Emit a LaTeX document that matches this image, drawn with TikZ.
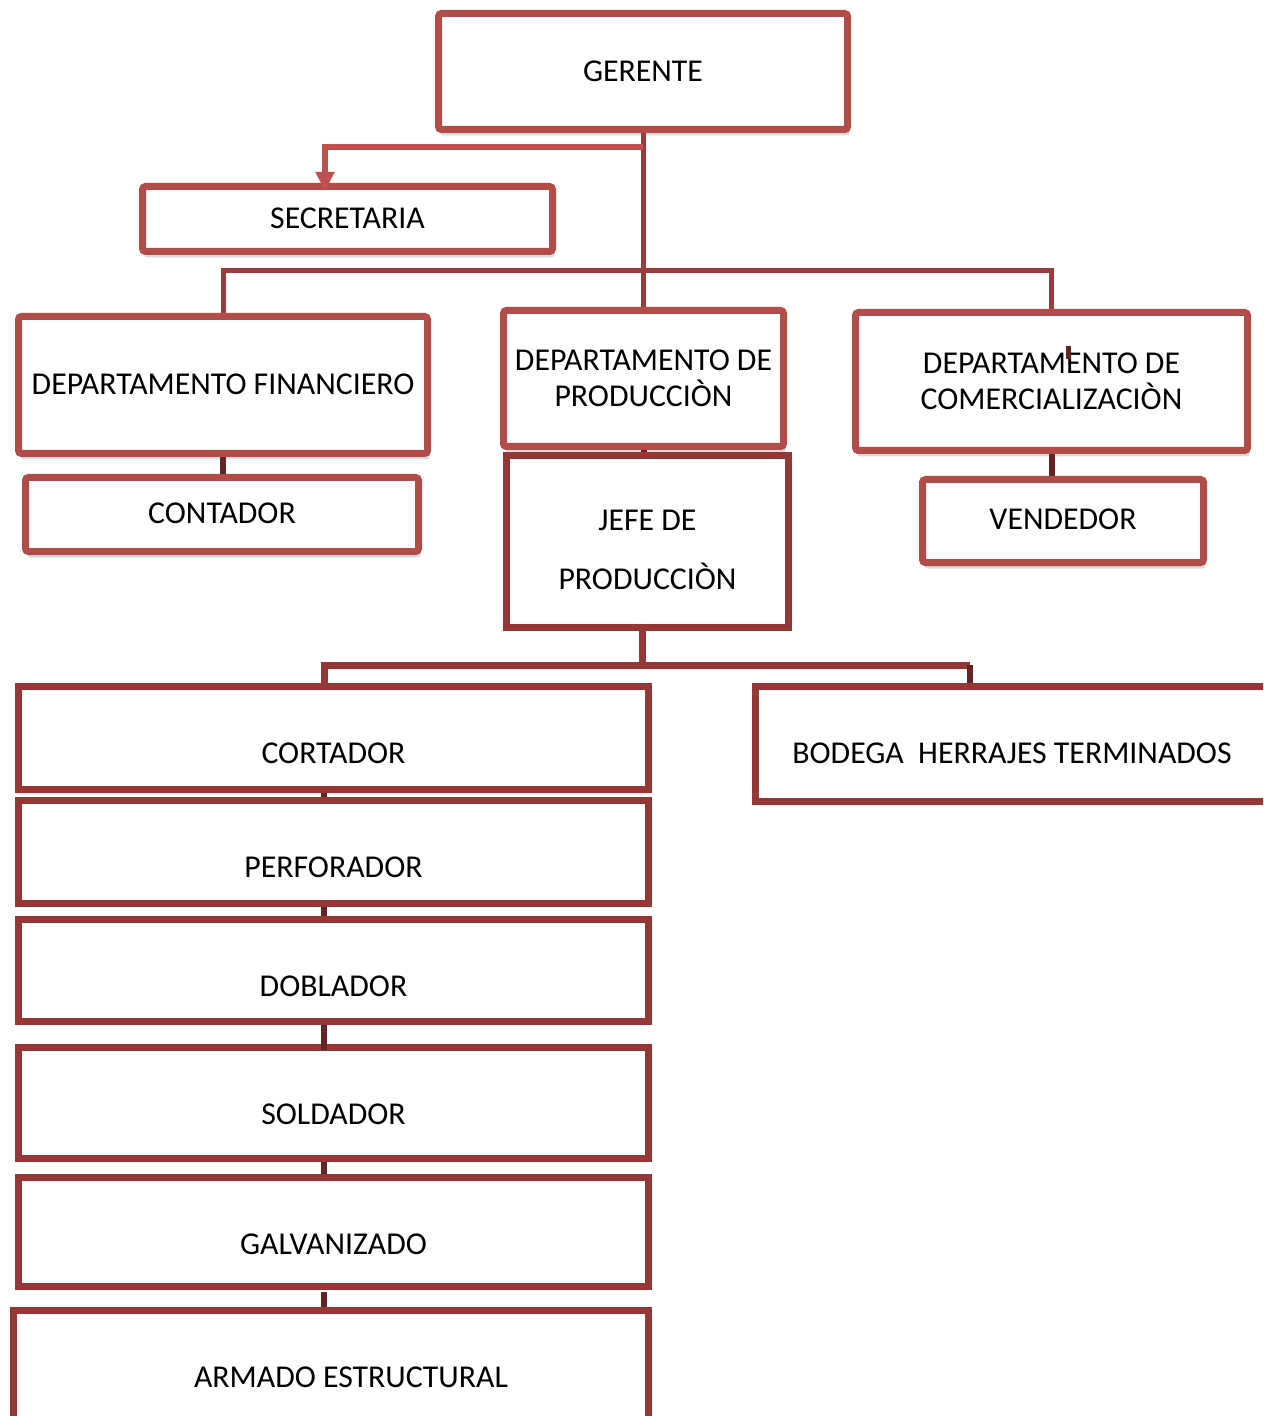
\documentclass[tikz,border=0pt]{standalone}
\usepackage{fontspec}
\setmainfont{Carlito}
\usetikzlibrary{arrows.meta,shadows}

\definecolor{boxtop}{HTML}{B24C49}
\definecolor{boxlow}{HTML}{953735}
\definecolor{busline}{HTML}{9A3C3A}
\definecolor{arrowred}{HTML}{C0504D}
\definecolor{stubdark}{HTML}{632523}

% box from its outer pixel extents: style, name, x1, y1, x2, y2, text
\newcommand\OrgBox[7]{%
  \node[#1, minimum width={(#5-#3-7)*0.5pt}, minimum height={(#6-#4-7)*0.5pt}]
    (#2) at ({(#3+#5)/2},{(#4+#6)/2}) {#7};}

\begin{document}
\begin{tikzpicture}[x=0.5pt,y=-0.5pt,
  every node/.style={font=\fontsize{15.9}{18}\selectfont, inner sep=0pt, align=center},
  upper/.style={draw=boxtop, line width=3.5pt, rounded corners=1.5pt, fill=white,
    drop shadow={opacity=0.3, shadow xshift=1pt, shadow yshift=-3pt}},
  lower/.style={draw=boxlow, line width=3.5pt, fill=white},
  capline/.style={text height=#1, text depth=0pt},
  bus/.style={draw=busline, line width=2.5pt},
  lowbus/.style={draw=boxlow, line width=3.5pt},
  stub/.style={draw=stubdark, line width=3pt},
  secarrow/.style={draw=arrowred, line width=3pt, -{Triangle[width=9pt,length=9.5pt]}},
]
\clip (0,0) rectangle (1263,1416);

% junction points of the connectors
\coordinate (secsplit) at (643,147);
\coordinate (secdrop) at (325,147);
\coordinate (topbus) at (643,271);
\coordinate (lowbusL) at (324,665);
\coordinate (lowbusM) at (642,665);
\coordinate (lowbusR) at (970,665);

% top level
\OrgBox{upper,capline=10pt}{gerente}{435}{10}{851}{133}{GERENTE}
\OrgBox{upper,capline=10pt}{secretaria}{139}{183}{556}{255}{SECRETARIA}

% departments
\OrgBox{upper,capline=10pt}{fin}{15}{313}{431}{457}{DEPARTAMENTO FINANCIERO}
\OrgBox{upper,capline=9pt}{contador}{22}{474}{422}{555}{CONTADOR}
\OrgBox{upper}{prod}{500}{307}{787}{450}{DEPARTAMENTO DE\\PRODUCCIÒN}
\OrgBox{lower}{jefe}{503}{452}{792}{631}{\rule{0pt}{19pt}JEFE DE\\[11.5pt]PRODUCCIÒN}
\OrgBox{upper}{com}{852}{309}{1251}{454}{DEPARTAMENTO DE\\COMERCIALIZACIÒN}
\OrgBox{upper,capline=9pt}{vendedor}{919}{476}{1207}{566}{VENDEDOR}

% production line
\OrgBox{lower,capline=25pt}{cortador}{15}{683}{652}{793}{CORTADOR}
\OrgBox{lower,capline=25pt}{perforador}{15}{797}{652}{907}{PERFORADOR}
\OrgBox{lower,capline=25.5pt}{doblador}{15}{916}{652}{1025}{DOBLADOR}
\OrgBox{lower,capline=21pt}{soldador}{15}{1044}{652}{1162}{SOLDADOR}
\OrgBox{lower,capline=22pt}{galvanizado}{15}{1174}{652}{1290}{GALVANIZADO}
\OrgBox{lower,capline=13.5pt}{armado}{10}{1307}{652}{1440}{\hspace*{20pt}ARMADO ESTRUCTURAL}
\OrgBox{lower,capline=19pt}{bodega}{752}{683}{1272}{805}{BODEGA~ HERRAJES TERMINADOS}

% gerente trunk and department bus
\draw[bus] (gerente.south) -- (gerente.south |- prod.north);
\draw[bus] (fin.north) |- (topbus) -| (com.north);
\draw[secarrow, shorten >=-4pt] (secsplit) -- (secdrop) -- (secdrop |- secretaria.north);

% department to staff
\draw[stub] (fin.south) -- (fin.south |- contador.north);
\draw[stub] (com.south) -- (com.south |- vendedor.north);
\draw[stub] (prod.south) -- (prod.south |- jefe.north);
\draw[stub, line width=2.5pt] ([shift={(17,-35)}]com.center) -- ++(0,13);

% production bus
\draw[lowbus] (jefe.south -| lowbusM) -- (lowbusM);
\draw[lowbus] (lowbusL |- cortador.north) -- (lowbusL) -- (lowbusR);
\draw[stub] (lowbusR) -- (lowbusR |- bodega.north);

% chain of production stations
\draw[stub] (cortador.south -| lowbusL) -- (perforador.north -| lowbusL);
\draw[stub] (perforador.south -| lowbusL) -- (doblador.north -| lowbusL);
\draw[stub] (doblador.south -| lowbusL) -- ([yshift=-3pt]soldador.north -| lowbusL);
\draw[stub] (soldador.south -| lowbusL) -- (galvanizado.north -| lowbusL);
\draw[stub] ([yshift=-1pt]galvanizado.south -| lowbusL) -- (armado.north -| lowbusL);
\end{tikzpicture}
\end{document}
